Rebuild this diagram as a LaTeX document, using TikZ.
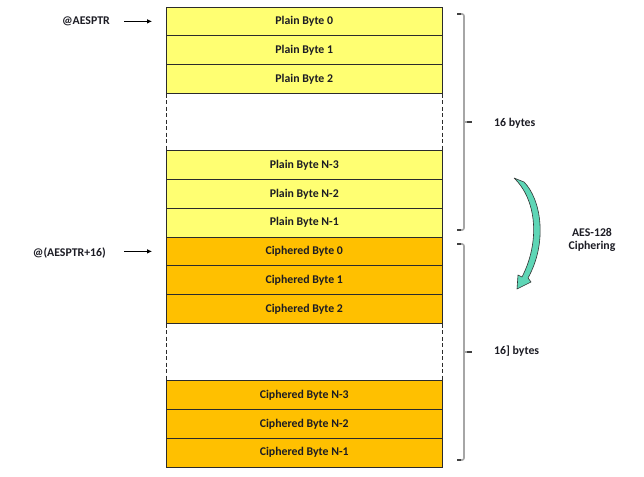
\documentclass[tikz,border=0pt]{standalone}
\usepackage{fontspec}
\setmainfont{Carlito}
\usetikzlibrary{arrows.meta}
\definecolor{plainY}{HTML}{FFFF72}
\definecolor{ciphO}{HTML}{FFC000}
\definecolor{boxline}{HTML}{2B2B2B}
\definecolor{txt}{HTML}{1C1C24}
\definecolor{bracegray}{HTML}{A6A6A6}
\definecolor{teal1}{HTML}{5ED6B6}
\tikzset{
  cell/.style={draw=boxline, line width=0.9pt, minimum width=275.5pt, minimum height=28.75pt,
    inner sep=0pt, font=\fontsize{11.8}{13.5}\selectfont\bfseries, text=txt},
  plaincell/.style={cell, fill=plainY},
  ciphcell/.style={cell, fill=ciphO},
  gapline/.style={draw=boxline, line width=0.9pt, dash pattern=on 4pt off 2.5pt},
  lbl/.style={font=\fontsize{11.8}{13.5}\selectfont\bfseries, text=txt, inner sep=0pt},
  ptr/.style={draw=black, line width=0.8pt, -{Latex[length=5pt,width=4.5pt]}},
  bracepath/.style={draw=bracegray, line width=1.6pt, rounded corners=2pt},
  bracehook/.style={draw=black!75, line width=1.2pt},
}
\begin{document}
\begin{tikzpicture}[x=1pt,y=-1pt]
\useasboundingbox (0,0) rectangle (644,476);
% rows: top = 7 + 28.75 i
\node[plaincell] (p0) at (304.25, 21.375) {Plain Byte 0};
\node[plaincell] (p1) at (304.25, 50.125) {Plain Byte 1};
\node[plaincell] (p2) at (304.25, 78.875) {Plain Byte 2};
\node[plaincell] (p3) at (304.25, 165.125) {Plain Byte N-3};
\node[plaincell] (p4) at (304.25, 193.875) {Plain Byte N-2};
\node[plaincell] (p5) at (304.25, 222.625) {Plain Byte N-1};
\node[ciphcell] (c0) at (304.25, 251.375) {Ciphered Byte 0};
\node[ciphcell] (c1) at (304.25, 280.125) {Ciphered Byte 1};
\node[ciphcell] (c2) at (304.25, 308.875) {Ciphered Byte 2};
\node[ciphcell] (c3) at (304.25, 395.125) {Ciphered Byte N-3};
\node[ciphcell] (c4) at (304.25, 423.875) {Ciphered Byte N-2};
\node[ciphcell] (c5) at (304.25, 452.625) {Ciphered Byte N-1};
% dashed gaps
\draw[gapline] (p2.south west) -- (p3.north west);
\draw[gapline] (p2.south east) -- (p3.north east);
\draw[gapline] (c2.south west) -- (c3.north west);
\draw[gapline] (c2.south east) -- (c3.north east);
% pointer labels
\node[lbl, anchor=east] (l1) at (110, 21) {@AESPTR};
\node[lbl, anchor=east] (l2) at (106, 253) {@(AESPTR+16)};
\coordinate (a1) at (124, 21.375);
\coordinate (a2) at (124, 251.375);
\draw[ptr] (a1) -- ([xshift=-14pt]p0.west);
\draw[ptr] (a2) -- ([xshift=-14pt]c0.west);
% braces
\coordinate (b1t) at (457, 14);
\coordinate (b1m) at (472, 122);
\coordinate (b1b) at (457, 230);
\coordinate (b2t) at (457, 244);
\coordinate (b2m) at (472, 352);
\coordinate (b2b) at (457, 460);
\draw[bracepath] (b1t) -- (464,14) -- (464,230) -- (b1b);
\draw[bracepath] (464,122) -- (b1m);
\draw[bracepath] (b2t) -- (464,244) -- (464,460) -- (b2b);
\draw[bracepath] (464,352) -- (b2m);
\draw[bracehook] (b1t) -- (461,14);
\draw[bracehook] (b1b) -- (461,230);
\draw[bracehook] (b2t) -- (461,244);
\draw[bracehook] (b2b) -- (461,460);
\draw[bracehook] (467,122) -- (b1m);
\draw[bracehook] (467,352) -- (b2m);
\node[lbl, anchor=west] (s1) at (494, 123.5) {16 bytes};
\node[lbl, anchor=west] (s2) at (494, 351.5) {16] bytes};
% curved arrow
\draw[fill=teal1, draw=black!80, line width=0.6pt, line join=round]
  (514,178) -- (524,182)
  .. controls (541,199) and (548,242) .. (528,278)
  -- (531,282) -- (517,289) -- (518,275) -- (522,277)
  .. controls (540,242) and (537,200) .. (514,178) -- cycle;
\node[lbl, align=center] (ae) at (592, 240) {AES-128\\Ciphering};
\end{tikzpicture}
\end{document}
